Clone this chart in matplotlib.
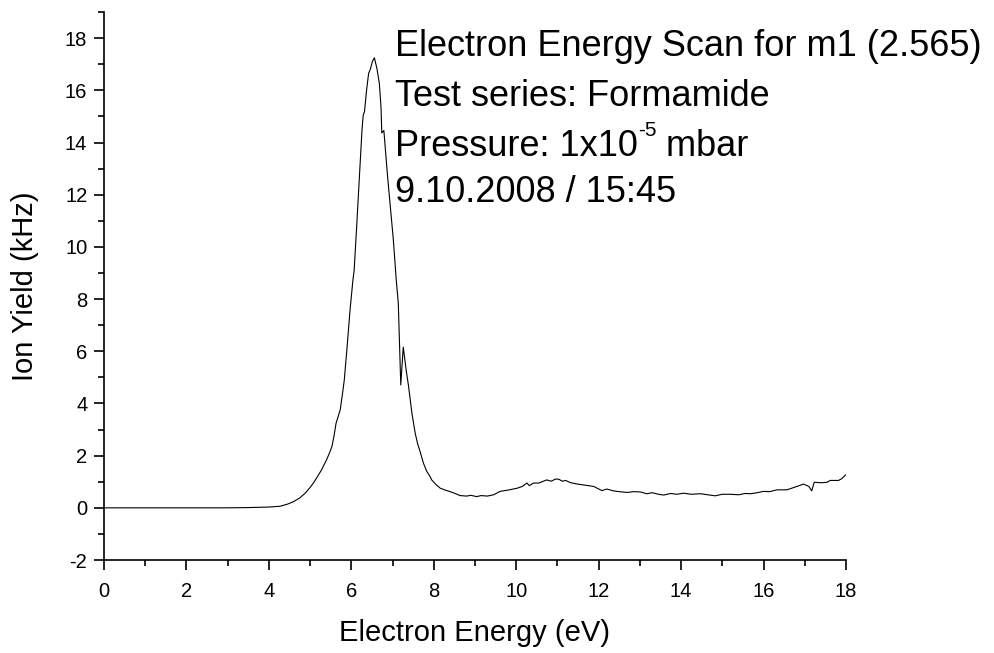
import numpy as np
import matplotlib
matplotlib.use("Agg")
import matplotlib.pyplot as plt
from matplotlib.ticker import MultipleLocator

plt.rcParams['font.family'] = ['Liberation Sans', 'DejaVu Sans']
plt.rcParams['axes.unicode_minus'] = False

# Electron energy scan
energy = [0.0, 1.0, 2.0, 3.0, 3.5, 4.0, 4.27, 4.45, 4.60, 4.75, 4.88, 5.00, 5.08,
          5.18, 5.28, 5.40, 5.47, 5.53, 5.58, 5.63, 5.73, 5.78, 5.83, 5.90, 5.97,
          6.04, 6.07, 6.13, 6.21, 6.26, 6.29, 6.32, 6.37, 6.42, 6.46, 6.51, 6.56,
          6.62, 6.68, 6.72, 6.74, 6.79, 6.86, 6.88, 6.95, 7.02, 7.09, 7.14, 7.20,
          7.26, 7.33, 7.39, 7.47, 7.55, 7.61, 7.67, 7.75, 7.83, 7.91, 7.95, 8.05,
          8.16, 8.28, 8.40, 8.52, 8.64, 8.80, 8.90, 9.04, 9.15, 9.30, 9.45, 9.61,
          9.80, 10.02, 10.15, 10.26, 10.32, 10.42, 10.55, 10.74, 10.85, 10.95,
          11.03, 11.12, 11.20, 11.31, 11.45, 11.63, 11.75, 11.88, 12.08, 12.20,
          12.36, 12.50, 12.69, 12.85, 13.01, 13.17, 13.30, 13.45, 13.58, 13.75,
          13.90, 14.06, 14.25, 14.47, 14.65, 14.83, 15.00, 15.19, 15.40, 15.55,
          15.68, 15.85, 16.00, 16.15, 16.33, 16.57, 16.70, 16.81, 16.97, 17.10,
          17.17, 17.23, 17.40, 17.54, 17.62, 17.82, 17.90, 17.99]
ion_yield = [0.0, 0.0, 0.0, 0.0, 0.01, 0.03, 0.06, 0.14, 0.24, 0.38, 0.56, 0.78, 0.95,
             1.20, 1.46, 1.84, 2.10, 2.35, 2.75, 3.24, 3.75, 4.30, 4.90, 6.20, 7.59,
             8.74, 9.12, 10.78, 13.08, 14.50, 15.06, 15.18, 16.00, 16.65, 16.80, 17.10, 17.25,
             16.85, 16.27, 15.38, 14.37, 14.46, 13.08, 12.70, 11.50, 10.27, 8.74, 7.84, 4.71,
             6.16, 5.29, 4.65, 3.63, 2.86, 2.45, 2.15, 1.71, 1.40, 1.20, 1.07, 0.90,
             0.75, 0.68, 0.62, 0.55, 0.47, 0.45, 0.48, 0.43, 0.47, 0.45, 0.50, 0.63,
             0.68, 0.75, 0.82, 0.95, 0.85, 0.95, 0.95, 1.07, 1.02, 1.10,
             1.10, 1.02, 1.05, 0.97, 0.92, 0.88, 0.85, 0.82, 0.66, 0.72,
             0.65, 0.62, 0.59, 0.62, 0.61, 0.54, 0.58, 0.52, 0.49, 0.55,
             0.52, 0.56, 0.52, 0.54, 0.50, 0.46, 0.52, 0.52, 0.50, 0.55,
             0.54, 0.58, 0.63, 0.62, 0.69, 0.69, 0.76, 0.82, 0.91, 0.82,
             0.65, 0.98, 0.96, 0.98, 1.05, 1.05, 1.12, 1.26]

title_line = "Electron Energy Scan for m1 (2.565)"
series_line = "Test series: Formamide"
pressure_parts = ["Pressure: 1x10", "-5", " mbar"]
date_line = "9.10.2008 / 15:45"

fig = plt.figure(figsize=(9.95, 6.53), dpi=100)
ax = fig.add_axes([0.1045, 0.1424, 0.7457, 0.8391])

ax.plot(energy, ion_yield, color='black', lw=0.8)

ax.set_xlim(0, 18)
ax.set_ylim(-2, 19)
ax.set_xticks(np.arange(0, 19, 2))
ax.set_yticks(np.arange(-2, 19, 2))
ax.xaxis.set_minor_locator(MultipleLocator(1))
ax.yaxis.set_minor_locator(MultipleLocator(1))
ax.tick_params(which='major', direction='out', length=7, width=1.2, labelsize=14.5, color='black')
ax.tick_params(which='minor', direction='out', length=4, width=1.2)
ax.tick_params(axis='x', pad=9)
ax.tick_params(axis='y', pad=5)

ax.spines['top'].set_visible(False)
ax.spines['right'].set_visible(False)
ax.spines['left'].set_linewidth(1.2)
ax.spines['bottom'].set_linewidth(1.2)

ax.set_xlabel("Electron Energy (eV)", fontsize=21, labelpad=13)
ax.set_ylabel("Ion Yield (kHz)", fontsize=21, labelpad=18.5)

fs = 26
x0 = 395 / 995
fig.text(x0, 1 - 47 / 653, title_line, fontsize=fs, va='center', ha='left')
fig.text(x0, 1 - 97 / 653, series_line, fontsize=fs, va='center', ha='left')
fig.text(x0, 1 - 192 / 653, date_line, fontsize=fs, va='center', ha='left')

# pressure line with a hyphen superscript, pieced together
renderer = fig.canvas.get_renderer()
t1 = fig.text(x0, 1 - 147 / 653, pressure_parts[0], fontsize=fs, va='center', ha='left')
bb = t1.get_window_extent(renderer)
t2 = fig.text(bb.x1 / fig.bbox.width, bb.y1 / fig.bbox.height - 0.002, pressure_parts[1],
              fontsize=15, va='center', ha='left')
bb2 = t2.get_window_extent(renderer)
fig.text(bb2.x1 / fig.bbox.width, 1 - 147 / 653, pressure_parts[2], fontsize=fs,
         va='center', ha='left')

fig.savefig("out.png", dpi=100)
